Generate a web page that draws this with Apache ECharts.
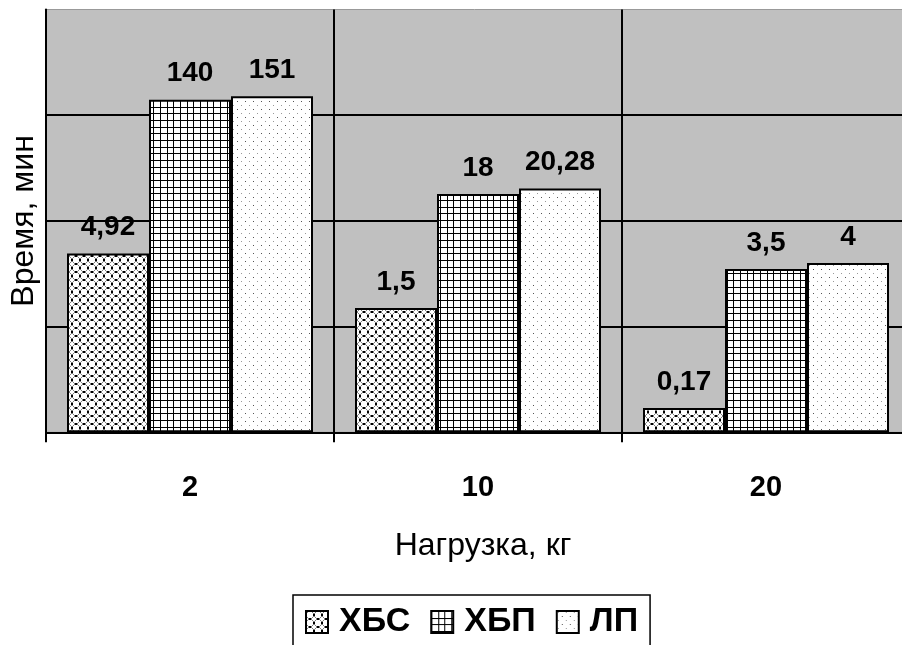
<!DOCTYPE html>
<html><head><meta charset="utf-8">
<script src="https://cdn.jsdelivr.net/npm/echarts@6/dist/echarts.min.js"></script>
<style>html,body{margin:0;padding:0;background:#fff}#c{width:902px;height:645px}</style>
</head><body><div id="c"></div>
<script>
// ---- data ----
const categories = ['2', '10', '20'];
const seriesNames = ['ХБС', 'ХБП', 'ЛП'];
const valuesXBS = [4.92, 1.5, 0.17];
const valuesXBP = [140, 18, 3.5];
const valuesLP = [151, 20.28, 4];
const xAxisName = 'Нагрузка, кг';
const yAxisName = 'Время, мин';
const yMin = 0.1, yMax = 1000;

// ---- fill patterns ----
function tile(rows, colors) {
  const h = rows.length, w = rows[0].length;
  const c = document.createElement('canvas');
  c.width = w; c.height = h;
  const ctx = c.getContext('2d');
  ctx.fillStyle = '#fff'; ctx.fillRect(0, 0, w, h);
  for (let y = 0; y < h; y++) for (let x = 0; x < w; x++) {
    const ch = rows[y][x];
    if (colors[ch]) { ctx.fillStyle = colors[ch]; ctx.fillRect(x, y, 1, 1); }
  }
  return c;
}
const cols = { K: '#000', G: '#808080' };
const patA = tile([
  '..GKKG..',
  '.G....G.',
  'G......G',
  'K......K',
  'K......K',
  'G......G',
  '.G....G.',
  '..GKKG..'
], cols);
function gridRow(full) {
  let s = '';
  for (let x = 0; x < 20; x++) s += (full || x === 0 || x === 7 || x === 13) ? 'K' : '.';
  return s;
}
const rowsB = [];
for (let y = 0; y < 20; y++) rowsB.push(gridRow(y === 0 || y === 7 || y === 13));
const patB = tile(rowsB, cols);
const patC = tile([
  '........',
  '.D......',
  '........',
  '........',
  '........',
  '.....K..',
  '........',
  '........'
], { K: '#555', D: '#999' });

const fills = [patA, patB, patC];
const allValues = [valuesXBS, valuesXBP, valuesLP];

const font = 'Liberation Sans, Arial, sans-serif';
const chart = echarts.init(document.getElementById('c'), null, { renderer: 'canvas' });

// On a log axis ECharts starts bars at 1; a transparent base bar (from 1 down to yMin)
// is stacked under each visible bar so that bars rise from the axis bottom.
const series = [];
seriesNames.forEach((name, i) => {
  series.push({
    name: '_base' + i,
    type: 'bar',
    stack: 's' + i,
    data: categories.map(() => yMin),
    barWidth: 82,
    barGap: '0%',
    silent: true,
    itemStyle: { color: 'rgba(0,0,0,0)', borderWidth: 0 },
    label: { show: false },
    tooltip: { show: false }
  });
  series.push({
    name: name,
    type: 'bar',
    stack: 's' + i,
    data: allValues[i].map(v => v - yMin),
    barWidth: 82,
    barGap: '0%',
    itemStyle: {
      color: { image: fills[i], repeat: 'repeat' },
      borderColor: '#000', borderWidth: 2
    },
    label: {
      show: true, position: 'top', distance: 12,
      fontFamily: font, fontSize: 28, fontWeight: 'bold', color: '#000',
      formatter: p => String(allValues[i][p.dataIndex]).replace('.', ',')
    }
  });
});

chart.setOption({
  animation: false,
  backgroundColor: '#fff',
  grid: {
    left: 46, top: 9.5, right: -8, bottom: 212.7,
    outerBoundsMode: 'none',
    containLabel: false,
    show: true, backgroundColor: '#c0c0c0', borderColor: '#999', borderWidth: 1
  },
  legend: {
    data: seriesNames,
    left: 293, top: 595,
    padding: [10, 12, 30, 12],
    itemGap: 20,
    itemWidth: 22, itemHeight: 22,
    icon: 'rect',
    borderColor: '#000', borderWidth: 1.5,
    textStyle: { fontFamily: font, fontSize: 34, fontWeight: 'bold', color: '#000', padding: [0, 0, 0, 6] }
  },
  xAxis: {
    type: 'category',
    data: categories,
    name: xAxisName,
    nameLocation: 'middle',
    nameGap: 98,
    nameTextStyle: { fontFamily: font, fontSize: 32, color: '#000', padding: [0, 0, 0, 10] },
    axisLine: { lineStyle: { color: '#000', width: 2 } },
    axisTick: { show: true, length: 10, lineStyle: { color: '#000', width: 2 } },
    splitLine: { show: true, lineStyle: { color: '#000', width: 2 } },
    axisLabel: { fontFamily: font, fontSize: 29, fontWeight: 'bold', color: '#000', margin: 41 }
  },
  yAxis: {
    type: 'log',
    logBase: 10,
    min: yMin, max: yMax,
    name: yAxisName,
    nameLocation: 'middle',
    nameRotate: 90,
    nameGap: 6,
    nameTextStyle: { fontFamily: font, fontSize: 32, color: '#000' },
    axisLine: { show: true, lineStyle: { color: '#000', width: 2 } },
    axisTick: { show: false },
    axisLabel: { show: false },
    splitLine: { show: true, showMaxLine: false, lineStyle: { color: '#000', width: 2 } }
  },
  series: series
});
</script>
</body></html>
